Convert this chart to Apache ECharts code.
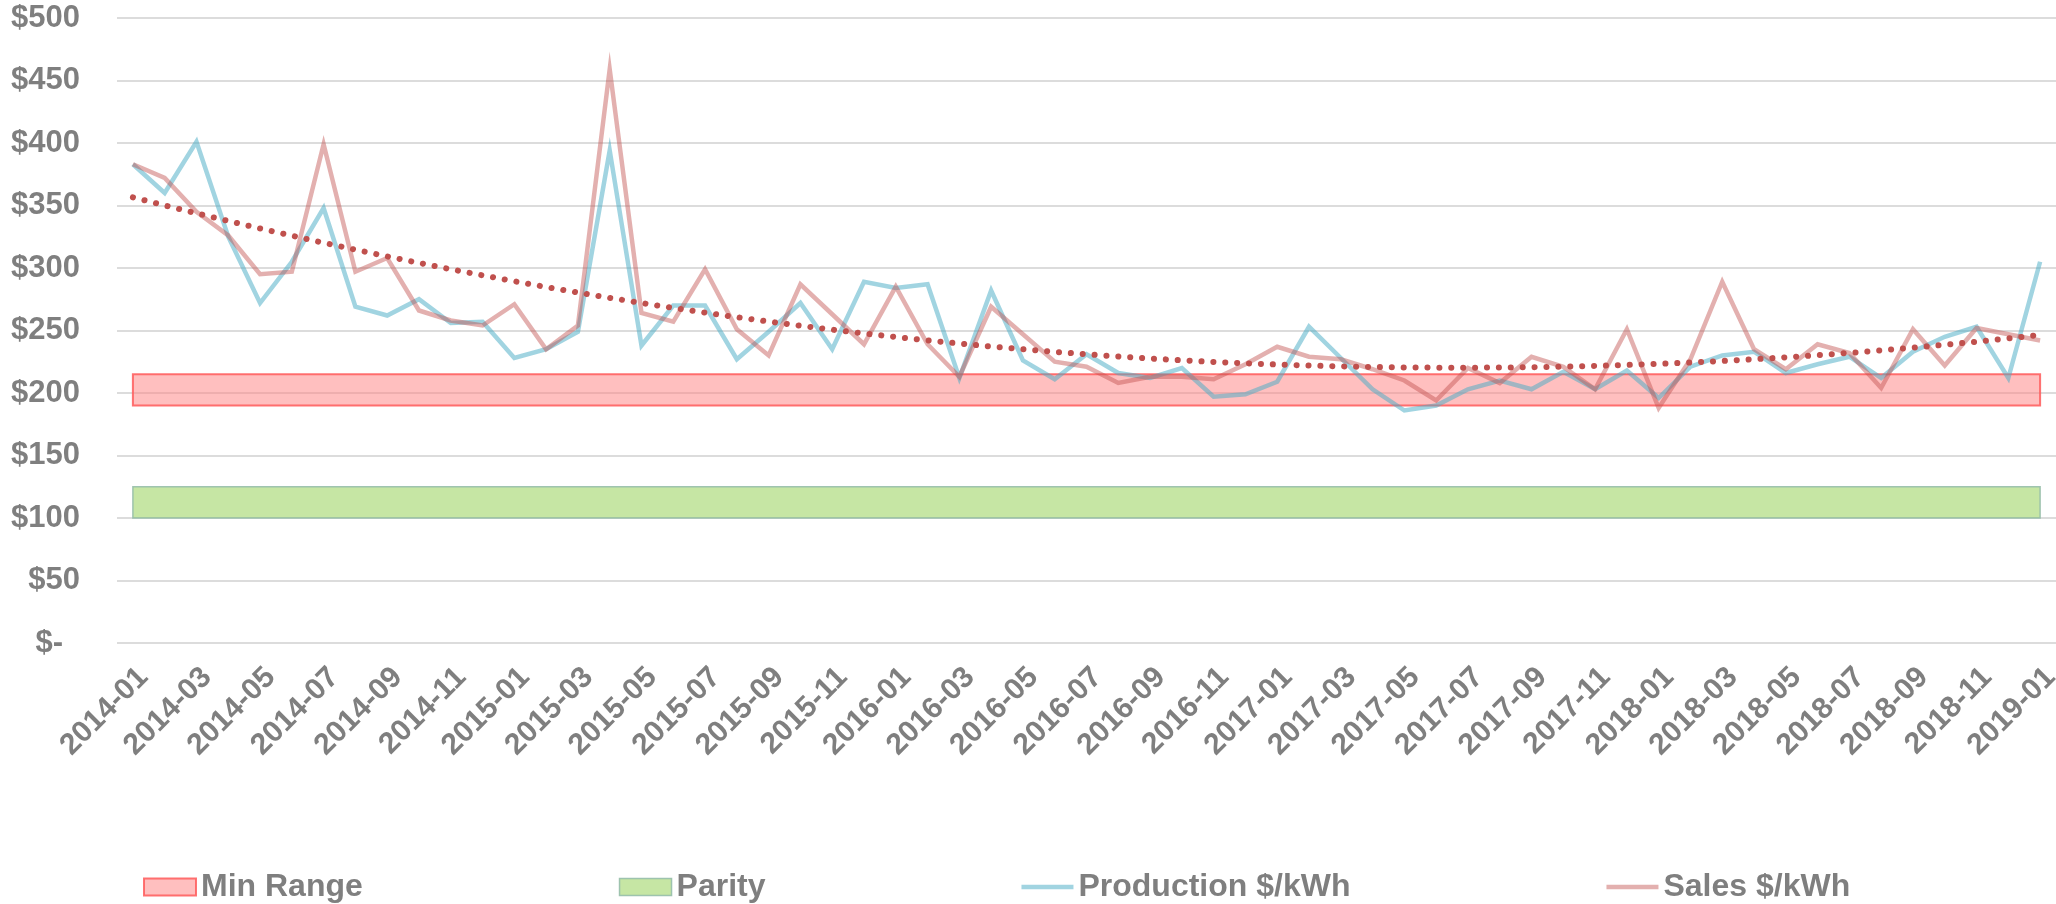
<!DOCTYPE html>
<html>
<head>
<meta charset="utf-8">
<title>Production and Sales $/kWh</title>
<script src="https://cdn.jsdelivr.net/npm/echarts@6/dist/echarts.min.js"></script>
<style>
  html, body { margin: 0; padding: 0; background: #ffffff; }
  #chart { width: 2056px; height: 904px; }
</style>
</head>
<body>
<div id="chart"></div>
<script>
// Monthly categories, Jan 2014 to Jan 2019
const categories = [
  '2014-01','2014-02','2014-03','2014-04','2014-05','2014-06','2014-07','2014-08','2014-09','2014-10','2014-11','2014-12',
  '2015-01','2015-02','2015-03','2015-04','2015-05','2015-06','2015-07','2015-08','2015-09','2015-10','2015-11','2015-12',
  '2016-01','2016-02','2016-03','2016-04','2016-05','2016-06','2016-07','2016-08','2016-09','2016-10','2016-11','2016-12',
  '2017-01','2017-02','2017-03','2017-04','2017-05','2017-06','2017-07','2017-08','2017-09','2017-10','2017-11','2017-12',
  '2018-01','2018-02','2018-03','2018-04','2018-05','2018-06','2018-07','2018-08','2018-09','2018-10','2018-11','2018-12',
  '2019-01'
];

// Production cost per kWh ($)
const production = [
  383, 360, 401, 325, 272, 305, 348, 269, 262, 275,
  256, 257, 228, 235, 249, 394, 238, 270, 270, 227,
  249, 272, 235, 289, 284, 287, 212, 282, 226, 211,
  231, 216, 212, 220, 197, 199, 209, 253, 228, 203,
  186, 190, 203, 210, 203, 217, 203, 218, 196, 221,
  230, 233, 216, 223, 229, 212, 233, 245, 253, 212, 305
];

// Sales price per kWh ($)
const sales = [
  383, 372, 345, 326, 295, 297, 399, 297, 308, 266,
  258, 254, 271, 235, 254, 459, 264, 257, 299, 251,
  230, 287, 263, 239, 285, 239, 213, 269, 247, 225,
  221, 208, 213, 213, 211, 223, 237, 229, 227, 219,
  210, 194, 220, 208, 229, 221, 203, 251, 188, 227,
  289, 235, 219, 239, 232, 204, 251, 222, 252, 247, 242
];

// Reference bands [low, high] in $
const minRange = [190, 215];
const parity = [100, 125];

// Y axis ticks
const yTicks = { min: 0, max: 500, step: 50 };

// Second-order least-squares trendline of the sales series
function polyTrend(values) {
  const n = values.length;
  let s0 = n, s1 = 0, s2 = 0, s3 = 0, s4 = 0, t0 = 0, t1 = 0, t2 = 0;
  for (let i = 0; i < n; i++) {
    const x = i + 1, y = values[i];
    s1 += x; s2 += x * x; s3 += x * x * x; s4 += x * x * x * x;
    t0 += y; t1 += x * y; t2 += x * x * y;
  }
  // Solve the normal equations with Cramer's rule
  const det3 = (m) =>
    m[0][0] * (m[1][1] * m[2][2] - m[1][2] * m[2][1]) -
    m[0][1] * (m[1][0] * m[2][2] - m[1][2] * m[2][0]) +
    m[0][2] * (m[1][0] * m[2][1] - m[1][1] * m[2][0]);
  const A = [[s0, s1, s2], [s1, s2, s3], [s2, s3, s4]];
  const B = [t0, t1, t2];
  const D = det3(A);
  const col = (k) => A.map((row, r) => row.map((v, c) => (c === k ? B[r] : v)));
  const a = det3(col(0)) / D, b = det3(col(1)) / D, c = det3(col(2)) / D;
  return values.map((_, i) => {
    const x = i + 1;
    return +(a + b * x + c * x * x).toFixed(2);
  });
}
const salesTrend = polyTrend(sales);

const FONT = '"Liberation Sans", Arial, sans-serif';
const GREY = '#7f7f7f';
const BLUE = 'rgba(75,172,198,0.52)';
const PINK = 'rgba(192,80,77,0.45)';
const MIN_FILL = 'rgba(255,128,128,0.5)';
const MIN_EDGE = 'rgba(255,90,90,0.85)';
const PAR_FILL = 'rgba(146,208,80,0.52)';
const PAR_EDGE = 'rgba(150,190,170,0.9)';

const nulls = categories.map(() => null);
const last = categories.length - 1;

function band(range) {
  return [[
    { xAxis: categories[0], yAxis: range[0] },
    { xAxis: categories[last], yAxis: range[1] }
  ]];
}

const chart = echarts.init(document.getElementById('chart'), null, { renderer: 'canvas' });

chart.setOption({
  animation: false,
  backgroundColor: '#ffffff',
  textStyle: { fontFamily: FONT },
  grid: { left: 117, right: 0, top: 18, bottom: 261, containLabel: false, outerBoundsMode: 'none' },
  legend: {
    left: 138,
    top: 866,
    itemGap: 256,
    itemWidth: 52,
    itemHeight: 17,
    selectedMode: false,
    textStyle: { fontSize: 32, fontWeight: 'bold', color: GREY, fontFamily: FONT },
    data: [
      { name: 'Min Range', icon: 'rect', itemStyle: { color: MIN_FILL, borderColor: MIN_EDGE, borderWidth: 2 } },
      { name: 'Parity', icon: 'rect', itemStyle: { color: PAR_FILL, borderColor: PAR_EDGE, borderWidth: 1.5 } },
      { name: 'Production $/kWh', icon: 'path://M0,0H52V4.5H0Z', itemStyle: { color: BLUE, borderWidth: 0 } },
      { name: 'Sales $/kWh', icon: 'path://M0,0H52V4.5H0Z', itemStyle: { color: PINK, borderWidth: 0 } }
    ]
  },
  xAxis: {
    type: 'category',
    data: categories,
    boundaryGap: true,
    axisLine: { show: false },
    axisTick: { show: false },
    splitLine: { show: false },
    axisLabel: {
      interval: 1,
      rotate: 45,
      align: 'right',
      verticalAlign: 'top',
      margin: 19,
      color: GREY,
      fontSize: 30,
      fontWeight: 'bold',
      fontFamily: FONT
    }
  },
  yAxis: {
    type: 'value',
    min: yTicks.min,
    max: yTicks.max,
    interval: yTicks.step,
    axisLine: { show: false },
    axisTick: { show: false },
    splitLine: { show: true, lineStyle: { color: '#dcdcdc', width: 2 } },
    axisLabel: {
      margin: 37,
      color: GREY,
      fontSize: 31,
      fontWeight: 'bold',
      fontFamily: FONT,
      formatter: (v) => (v === 0 ? '{z|$-}' : '$' + v),
      rich: { z: { padding: [0, 17, 0, 0], color: GREY, fontSize: 31, fontWeight: 'bold', fontFamily: FONT } }
    }
  },
  series: [
    {
      name: 'Min Range',
      type: 'line',
      data: nulls,
      showSymbol: false,
      silent: true,
      z: 1,
      itemStyle: { color: MIN_FILL },
      lineStyle: { width: 0 },
      markArea: {
        silent: true,
        label: { show: false },
        itemStyle: { color: MIN_FILL, borderColor: MIN_EDGE, borderWidth: 2 },
        data: band(minRange)
      }
    },
    {
      name: 'Parity',
      type: 'line',
      data: nulls,
      showSymbol: false,
      silent: true,
      z: 1,
      itemStyle: { color: PAR_FILL },
      lineStyle: { width: 0 },
      markArea: {
        silent: true,
        label: { show: false },
        itemStyle: { color: PAR_FILL, borderColor: PAR_EDGE, borderWidth: 1.5 },
        data: band(parity)
      }
    },
    {
      name: 'Production $/kWh',
      type: 'line',
      data: production,
      showSymbol: false,
      z: 3,
      itemStyle: { color: BLUE },
      lineStyle: { color: BLUE, width: 4.5, join: 'miter' }
    },
    {
      name: 'Sales $/kWh',
      type: 'line',
      data: sales,
      showSymbol: false,
      z: 4,
      itemStyle: { color: PINK },
      lineStyle: { color: PINK, width: 4.5, join: 'miter' }
    },
    {
      name: 'Sales trend',
      type: 'line',
      data: salesTrend,
      showSymbol: false,
      smooth: false,
      z: 5,
      lineStyle: { color: '#c0504d', width: 6, type: [0.1, 11.8], cap: 'round' }
    }
  ]
});
</script>
</body>
</html>
